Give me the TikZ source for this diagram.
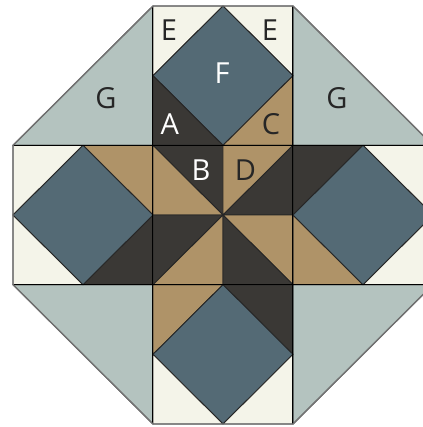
\documentclass[tikz,border=0pt]{standalone}
\usepackage{fontspec}
\setmainfont{Open Sans}
\definecolor{gcol}{HTML}{B4C3BF}
\definecolor{cream}{HTML}{F4F4E9}
\definecolor{bluec}{HTML}{546A75}
\definecolor{tanc}{HTML}{AF9368}
\definecolor{darkc}{HTML}{3A3835}
\tikzset{
  patch/.style={draw=black!85, line width=0.9pt, line join=round},
  lab/.style={font=\fontsize{29}{29}\selectfont, inner sep=0pt, anchor=center},
  wlab/.style={lab, text=white},
  blab/.style={lab, text=black!85},
}
\begin{document}
\begin{tikzpicture}[x=70pt, y=-69.67pt]
\useasboundingbox (-0.1857,-0.0861) rectangle (5.8429,6.0428);
% corner G triangles
\filldraw[patch, fill=gcol] (0,2) -- (2,0) -- (2,2) -- cycle;
\filldraw[patch, fill=gcol] (4,0) -- (6,2) -- (4,2) -- cycle;
\filldraw[patch, fill=gcol] (0,4) -- (2,4) -- (2,6) -- cycle;
\filldraw[patch, fill=gcol] (4,4) -- (6,4) -- (4,6) -- cycle;
% top block
\filldraw[patch, fill=cream] (2,0) -- (3,0) -- (2,1) -- cycle;
\filldraw[patch, fill=cream] (3,0) -- (4,0) -- (4,1) -- cycle;
\filldraw[patch, fill=bluec] (3,0) -- (4,1) -- (3,2) -- (2,1) -- cycle;
\filldraw[patch, fill=darkc] (2,1) -- (2,2) -- (3,2) -- cycle;
\filldraw[patch, fill=tanc] (4,1) -- (4,2) -- (3,2) -- cycle;
% bottom block
\filldraw[patch, fill=tanc] (2,4) -- (3,4) -- (2,5) -- cycle;
\filldraw[patch, fill=darkc] (3,4) -- (4,4) -- (4,5) -- cycle;
\filldraw[patch, fill=bluec] (3,4) -- (4,5) -- (3,6) -- (2,5) -- cycle;
\filldraw[patch, fill=cream] (2,5) -- (2,6) -- (3,6) -- cycle;
\filldraw[patch, fill=cream] (4,5) -- (4,6) -- (3,6) -- cycle;
% left block
\filldraw[patch, fill=cream] (0,2) -- (1,2) -- (0,3) -- cycle;
\filldraw[patch, fill=tanc] (1,2) -- (2,2) -- (2,3) -- cycle;
\filldraw[patch, fill=cream] (0,3) -- (0,4) -- (1,4) -- cycle;
\filldraw[patch, fill=darkc] (2,3) -- (2,4) -- (1,4) -- cycle;
\filldraw[patch, fill=bluec] (1,2) -- (2,3) -- (1,4) -- (0,3) -- cycle;
% right block
\filldraw[patch, fill=darkc] (4,2) -- (5,2) -- (4,3) -- cycle;
\filldraw[patch, fill=cream] (5,2) -- (6,2) -- (6,3) -- cycle;
\filldraw[patch, fill=tanc] (4,3) -- (4,4) -- (5,4) -- cycle;
\filldraw[patch, fill=cream] (6,3) -- (6,4) -- (5,4) -- cycle;
\filldraw[patch, fill=bluec] (5,2) -- (6,3) -- (5,4) -- (4,3) -- cycle;
% center block
\filldraw[patch, fill=darkc] (2,2) -- (3,2) -- (3,3) -- cycle;
\filldraw[patch, fill=tanc] (2,2) -- (2,3) -- (3,3) -- cycle;
\filldraw[patch, fill=tanc] (3,2) -- (4,2) -- (3,3) -- cycle;
\filldraw[patch, fill=darkc] (4,2) -- (4,3) -- (3,3) -- cycle;
\filldraw[patch, fill=darkc] (2,3) -- (3,3) -- (2,4) -- cycle;
\filldraw[patch, fill=tanc] (3,3) -- (3,4) -- (2,4) -- cycle;
\filldraw[patch, fill=tanc] (3,3) -- (4,3) -- (4,4) -- cycle;
\filldraw[patch, fill=darkc] (3,3) -- (3,4) -- (4,4) -- cycle;
% block lines
\draw[black, line width=1pt] (0,2) -- (6,2) (0,4) -- (6,4) (2,0) -- (2,6) (4,0) -- (4,6);
% outer border
\draw[black!55, line width=1.4pt, line join=round]
  (2,0) -- (4,0) -- (6,2) -- (6,4) -- (4,6) -- (2,6) -- (0,4) -- (0,2) -- cycle;
% labels
\node[blab] (e1) at (2.229,0.345) {E};
\node[blab] (e2) at (3.671,0.345) {E};
\node[wlab] (f) at (2.986,0.962) {F};
\node[blab] (g1) at (1.329,1.321) {G};
\node[blab] (g2) at (4.629,1.321) {G};
\node[wlab] (a) at (2.239,1.689) {A};
\node[blab] (c) at (3.686,1.694) {C};
\node[wlab] (b) at (2.686,2.354) {B};
\node[blab] (d) at (3.321,2.354) {D};
\end{tikzpicture}
\end{document}
